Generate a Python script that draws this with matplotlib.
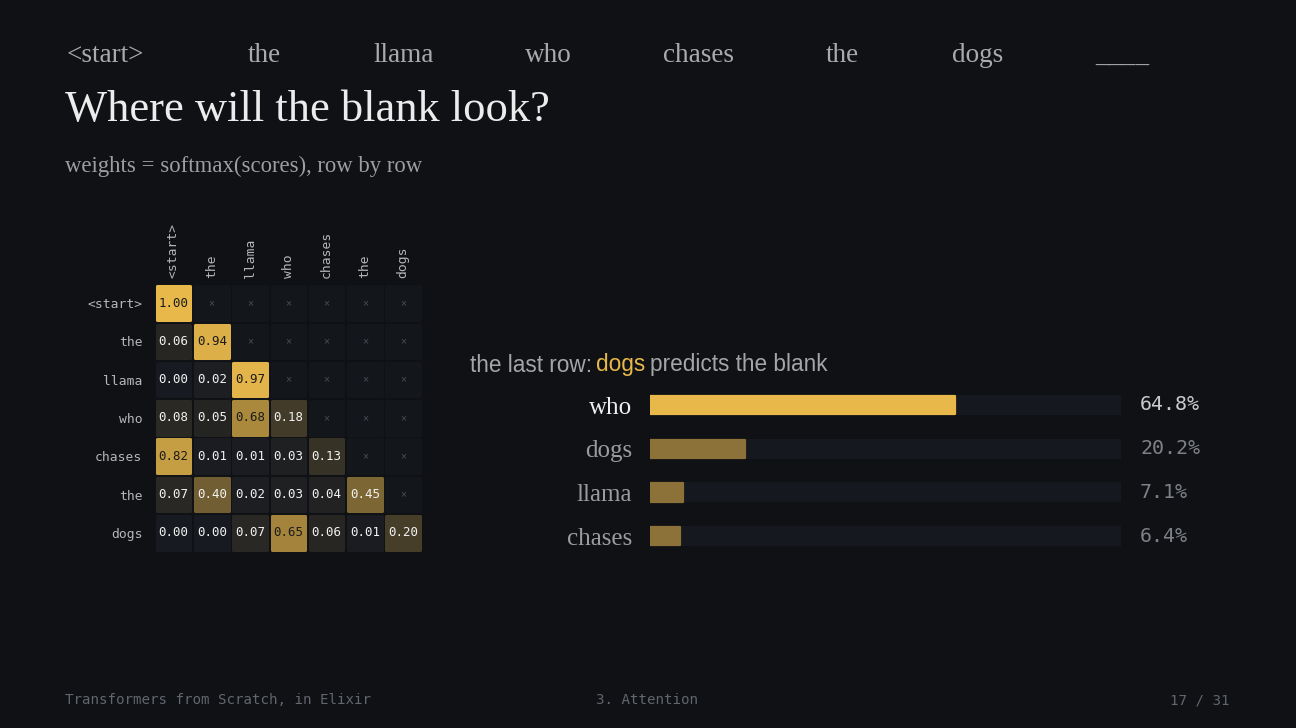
import numpy as np
import matplotlib
matplotlib.use("Agg")
import matplotlib.pyplot as plt
from matplotlib.patches import Rectangle

# ---------------- data ----------------
tokens = ["<start>", "the", "llama", "who", "chases", "the", "dogs"]
weights = [
    [1.00, None, None, None, None, None, None],
    [0.06, 0.94, None, None, None, None, None],
    [0.00, 0.02, 0.97, None, None, None, None],
    [0.08, 0.05, 0.68, 0.18, None, None, None],
    [0.82, 0.01, 0.01, 0.03, 0.13, None, None],
    [0.07, 0.40, 0.02, 0.03, 0.04, 0.45, None],
    [0.00, 0.00, 0.07, 0.65, 0.06, 0.01, 0.20],
]
bar_labels = ["who", "dogs", "llama", "chases"]
bar_values = [64.8, 20.2, 7.1, 6.4]
sentence = ["<start>", "the", "llama", "who", "chases", "the", "dogs", "____"]

# ---------------- style ----------------
W, H = 1296, 728
BG = "#0f1115"
GOLD = "#e8b84a"
MUTED = "#8c7238"
SERIF = ["Liberation Serif", "DejaVu Serif"]
SANS = ["Liberation Sans", "DejaVu Sans"]
MONO = ["DejaVu Sans Mono"]

fig = plt.figure(figsize=(W / 100, H / 100), dpi=100, facecolor=BG)


def fx(px):
    return px / W


def fy(py):
    return 1 - py / H


# sentence row (text layout)
sent_x = [67, 248, 374, 525, 663, 826, 952, 1095]
for tok, x in zip(sentence, sent_x):
    fig.text(fx(x), fy(56), tok, family=SERIF, fontsize=19.5, color="#a8aaad",
             ha="left", va="center")

fig.text(fx(65), fy(110), "Where will the blank look?", family=SERIF, fontsize=32,
         color="#ececec", ha="left", va="center")
fig.text(fx(65), fy(166), "weights = softmax(scores), row by row", family=SERIF,
         fontsize=16.4, color="#9c9ea2", ha="left", va="center")

# footer
fig.text(fx(65), fy(700), "Transformers from Scratch, in Elixir", family=MONO,
         fontsize=10.2, color="#62666d", ha="left", va="center")
fig.text(fx(647.5), fy(700), "3. Attention", family=MONO, fontsize=10.2,
         color="#62666d", ha="center", va="center")
fig.text(fx(1229), fy(700), "17 / 31", family=MONO, fontsize=10.2,
         color="#62666d", ha="right", va="center")

# ---------------- heatmap ----------------
n = len(tokens)
cell = 38.3
hm_left, hm_top = 154.3, 283.85
ax = fig.add_axes([fx(hm_left), fy(hm_top + n * cell), n * cell / W, n * cell / H])
ax.set_facecolor(BG)
ax.set_xlim(-0.5, n - 0.5)
ax.set_ylim(n - 0.5, -0.5)
for s in ax.spines.values():
    s.set_visible(False)

base = np.array([0x17, 0x1a, 0x20]) / 255
gold = np.array(matplotlib.colors.to_rgb(GOLD))
sz = 0.875
for i, row in enumerate(weights):
    for j, w in enumerate(row):
        if w is None:
            fc = "#13161b"
        else:
            fc = tuple(base + (gold - base) * (w ** 0.92))
        ax.add_patch(Rectangle((j - sz / 2, i - sz / 2), sz, sz, facecolor=fc,
                               edgecolor=fc, linewidth=2.2, joinstyle="round"))
        if w is None:
            ax.text(j, i, "×", ha="center", va="center", family=SANS,
                    fontsize=7.5, color="#4a4d53")
        else:
            tc = "#1b1b1b" if w >= 0.5 else "#f2f2f2"
            ax.text(j, i, f"{w:.2f}", ha="center", va="center", family=MONO,
                    fontsize=9.0, color=tc)

ax.set_yticks(range(n))
ax.set_yticklabels(tokens, family=MONO, fontsize=9.4, color="#b4b6ba")
ax.xaxis.tick_top()
ax.set_xticks(range(n))
ax.set_xticklabels(tokens, family=MONO, fontsize=9.4, color="#b4b6ba",
                   rotation=90, ha="center", va="bottom")
ax.tick_params(axis="both", length=0)
ax.tick_params(axis="y", pad=12 * 0.72)
ax.tick_params(axis="x", pad=6 * 0.72)

# ---------------- bars ----------------
nb = len(bar_values)
bsp = 43.7
b_top = 405 - bsp / 2
bx = fig.add_axes([fx(650), fy(b_top + nb * bsp), 471 / W, nb * bsp / H])
bx.set_facecolor(BG)
bx.set_xlim(0, 100)
bx.set_ylim(nb - 0.5, -0.5)
for s in bx.spines.values():
    s.set_visible(False)
ypos = np.arange(nb)
bx.barh(ypos, [100] * nb, height=0.46, color="#15181e", linewidth=0)
cols = [GOLD] + [MUTED] * (nb - 1)
bx.barh(ypos, bar_values, height=0.42, color=cols, edgecolor=cols,
        linewidth=1.6, joinstyle="round")
bx.set_xticks([])
bx.set_yticks(ypos)
bx.set_yticklabels(bar_labels, family=SERIF, fontsize=18)
for k, lab in enumerate(bx.get_yticklabels()):
    lab.set_color("#f0f0f0" if k == 0 else "#9a9ca0")
bx.tick_params(axis="y", length=0, pad=18 * 0.72)
for k, v in enumerate(bar_values):
    bx.annotate(f"{v:.1f}%", xy=(100, k), xytext=(19 * 0.72, 0),
                textcoords="offset points", ha="left", va="center",
                family=MONO, fontsize=14.4,
                color="#c9cbce" if k == 0 else "#7d8086")

# ---------------- multi-colour heading ----------------
parts = [("the last row:", "#a3a5a9"), ("dogs", GOLD), ("predicts the blank", "#a3a5a9")]
HFS = 16.3
chain = fig.text(fx(470), fy(365), parts[0][0], family=SANS, fontsize=HFS,
                 color=parts[0][1], ha="left", va="center")
for txt, c in parts[1:]:
    chain = ax.annotate(txt, xy=(1, 0), xycoords=chain, xytext=(4.4 * 0.72, 0),
                        textcoords="offset points", ha="left", va="bottom",
                        family=SANS, fontsize=HFS, color=c, annotation_clip=False)

fig.savefig("out.png", dpi=100, facecolor=BG)
